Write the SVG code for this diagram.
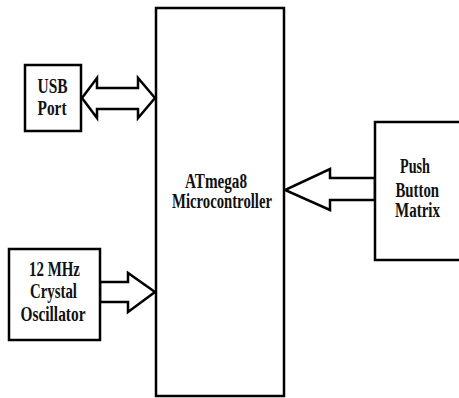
<svg xmlns="http://www.w3.org/2000/svg" width="459" height="398" viewBox="0 0 459 398">
<style>
.box{fill:#fff;stroke:#000;stroke-width:2.5}
.arr{fill:#fff;stroke:#000;stroke-width:2.5;stroke-linejoin:miter}
text{font-family:"Liberation Serif","Times New Roman",serif;font-weight:bold;font-size:20.5px;fill:#111;text-anchor:start}
</style>
<rect width="459" height="398" fill="#fff"/>
<g id="connectors">
<polygon class="arr" points="82,98 97,78 97,88 138,88 138,78 155,98 138,118 138,109 97,109 97,118"/>
<polygon class="arr" points="100,282 128,282 128,273 155,292 128,312 128,302 100,302"/>
<polygon class="arr" points="375,178 330,178 330,169 285,190 330,210 330,200 375,200"/>
</g>
<g id="mcu">
<rect class="box" x="156" y="8" width="128" height="388"/>
<text x="185" y="188" textLength="62" lengthAdjust="spacingAndGlyphs">ATmega8</text>
<text x="172" y="208" textLength="100" lengthAdjust="spacingAndGlyphs">Microcontroller</text>
</g>
<g id="usb">
<rect class="box" x="25" y="65" width="56" height="66"/>
<text x="37.5" y="92.5" textLength="30" lengthAdjust="spacingAndGlyphs">USB</text>
<text x="37.5" y="114.5" textLength="29" lengthAdjust="spacingAndGlyphs">Port</text>
</g>
<g id="osc">
<rect class="box" x="9" y="249" width="91" height="91"/>
<text x="29" y="275.5" textLength="51" lengthAdjust="spacingAndGlyphs">12 MHz</text>
<text x="30" y="297.5" textLength="47" lengthAdjust="spacingAndGlyphs">Crystal</text>
<text x="20.5" y="320.5" textLength="65" lengthAdjust="spacingAndGlyphs">Oscillator</text>
</g>
<g id="push">
<rect class="box" x="375" y="122" width="100" height="138"/>
<text x="400" y="172.5" textLength="30" lengthAdjust="spacingAndGlyphs">Push</text>
<text x="395.5" y="196.5" textLength="43.5" lengthAdjust="spacingAndGlyphs">Button</text>
<text x="395" y="216.5" textLength="45" lengthAdjust="spacingAndGlyphs">Matrix</text>
</g>
</svg>
